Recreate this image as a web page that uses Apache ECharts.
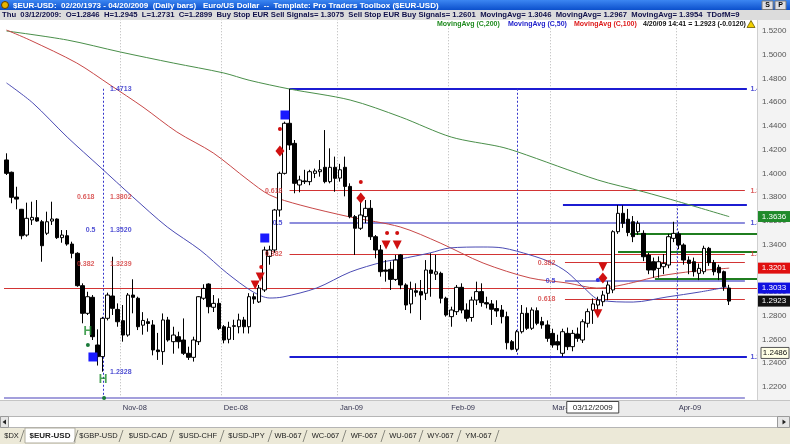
<!DOCTYPE html>
<html>
<head>
<meta charset="utf-8">
<script src="https://cdn.jsdelivr.net/npm/echarts@6.0.0/dist/echarts.min.js"></script>
<style>
html,body{margin:0;padding:0;background:#ece9d8;overflow:hidden;}
#chart{width:790px;height:444px;}
</style>
</head>
<body>
<div id="chart"></div>
<script>
// ---------------- data ----------------
const opens = [
1.4113,1.4009,1.3800,1.3697,1.3480,1.3607,1.3626,1.3592,1.3495,1.3598,
1.3615,1.3458,1.3474,1.3404,1.3326,1.3053,1.2820,1.2955,1.2553,1.2455,
1.2778,1.2966,1.2853,1.2758,1.2637,1.2974,1.2947,1.2720,1.2749,1.2722,
1.2511,1.2497,1.2764,1.2581,1.2623,1.2595,1.2483,1.2449,1.2581,1.2947,
1.3067,1.2871,1.2904,1.2707,1.2601,1.2710,1.2707,1.2764,1.2707,1.2960,
1.2916,1.3017,1.3300,1.3354,1.3691,1.4000,1.4422,1.4253,1.3902,1.3936,
1.3930,1.4000,1.4014,1.4051,1.3930,1.4051,1.3960,1.4051,1.3890,1.3635,
1.3537,1.3635,1.3705,1.3466,1.3354,1.3185,1.3191,1.3106,1.3312,1.3059,
1.2899,1.3010,1.3003,1.2989,1.3185,1.3150,1.3157,1.2947,1.2792,1.2834,
1.3039,1.2848,1.2785,1.2932,1.3003,1.2910,1.2899,1.2860,1.2848,1.2792,
1.2581,1.2517,1.2665,1.2820,1.2694,1.2842,1.2750,1.2722,1.2651,1.2581,
1.2483,1.2651,1.2539,1.2645,1.2595,1.2736,1.2846,1.2890,1.2918,1.2989,
1.3017,1.3508,1.3663,1.3613,1.3592,1.3508,1.3494,1.3311,1.3255,1.3199,
1.3213,1.3227,1.3452,1.3489,1.3396,1.3269,1.3255,1.3157,1.3171,1.3368,
1.3247,1.3208,1.3171,1.3033];
const highs = [
1.4169,1.4015,1.3887,1.3700,1.3753,1.3761,1.3775,1.3607,1.3677,1.3761,
1.3620,1.3522,1.3522,1.3424,1.3335,1.3073,1.3002,1.2974,1.2685,1.2790,
1.2994,1.3297,1.2904,1.2890,1.2991,1.3107,1.2960,1.2830,1.2777,1.2763,
1.2655,1.2819,1.2790,1.2707,1.2665,1.2777,1.2539,1.2623,1.2965,1.3065,
1.3073,1.2974,1.2946,1.2721,1.2749,1.2766,1.2817,1.2790,1.2990,1.2990,
1.3059,1.3382,1.3390,1.3700,1.4014,1.4436,1.4713,1.4281,1.3980,1.4030,
1.4030,1.4040,1.4112,1.4365,1.4211,1.4141,1.4080,1.4141,1.3916,1.3649,
1.3832,1.3775,1.3775,1.3480,1.3396,1.3269,1.3255,1.3312,1.3320,1.3073,
1.3087,1.3073,1.3101,1.3269,1.3326,1.3312,1.3171,1.2960,1.2876,1.3059,
1.3073,1.2904,1.2960,1.3087,1.3073,1.2960,1.2932,1.2930,1.2890,1.2834,
1.2595,1.2680,1.2890,1.2870,1.2870,1.2870,1.2790,1.2760,1.2690,1.2640,
1.2690,1.2700,1.2680,1.2700,1.2770,1.2860,1.2945,1.2960,1.3010,1.3090,
1.3520,1.3733,1.3730,1.3700,1.3640,1.3600,1.3520,1.3330,1.3290,1.3300,
1.3320,1.3490,1.3592,1.3510,1.3410,1.3300,1.3290,1.3240,1.3390,1.3380,
1.3270,1.3230,1.3180,1.3060];
const lows = [
1.3986,1.3748,1.3697,1.3444,1.3466,1.3565,1.3592,1.3255,1.3480,1.3565,
1.3447,1.3415,1.3390,1.3284,1.3044,1.2736,1.2806,1.2595,1.2380,1.2328,
1.2760,1.2806,1.2707,1.2581,1.2623,1.2820,1.2679,1.2640,1.2665,1.2466,
1.2427,1.2386,1.2581,1.2480,1.2524,1.2469,1.2427,1.2413,1.2553,1.2933,
1.2820,1.2831,1.2679,1.2567,1.2567,1.2595,1.2651,1.2651,1.2650,1.2900,
1.2907,1.3000,1.3230,1.3330,1.3635,1.3990,1.4197,1.3832,1.3840,1.3910,
1.3900,1.3960,1.3972,1.3916,1.3916,1.3845,1.3930,1.3806,1.3621,1.3312,
1.3523,1.3580,1.3438,1.3284,1.3129,1.3087,1.3017,1.3093,1.3023,1.2848,
1.2820,1.2960,1.2764,1.2932,1.2960,1.3101,1.2904,1.2792,1.2707,1.2806,
1.2820,1.2750,1.2750,1.2890,1.2876,1.2862,1.2722,1.2790,1.2735,1.2516,
1.2509,1.2495,1.2650,1.2680,1.2680,1.2720,1.2690,1.2580,1.2530,1.2510,
1.2455,1.2510,1.2500,1.2580,1.2570,1.2700,1.2731,1.2840,1.2880,1.2930,
1.2990,1.3490,1.3540,1.3470,1.3420,1.3480,1.3260,1.3150,1.3120,1.3120,
1.3150,1.3200,1.3420,1.3360,1.3230,1.3150,1.3130,1.3100,1.3150,1.3220,
1.3140,1.3100,1.3010,1.2890];
const closes = [
1.4000,1.3798,1.3783,1.3474,1.3621,1.3629,1.3598,1.3390,1.3592,1.3615,
1.3458,1.3480,1.3404,1.3326,1.3053,1.2820,1.2960,1.2623,1.2455,1.2778,
1.2974,1.2862,1.2749,1.2637,1.2974,1.2955,1.2707,1.2760,1.2735,1.2511,
1.2497,1.2764,1.2595,1.2637,1.2581,1.2483,1.2449,1.2595,1.2960,1.3030,
1.2876,1.2904,1.2693,1.2595,1.2702,1.2716,1.2764,1.2707,1.2960,1.2940,
1.3033,1.3354,1.3354,1.3691,1.4000,1.4422,1.4239,1.3916,1.3944,1.3930,
1.4014,1.4020,1.4030,1.3930,1.4051,1.3958,1.4030,1.3890,1.3635,1.3537,
1.3649,1.3705,1.3466,1.3354,1.3171,1.3175,1.3106,1.3269,1.3059,1.2890,
1.3023,1.2997,1.2974,1.3185,1.3157,1.3170,1.2947,1.2806,1.2848,1.3039,
1.2848,1.2778,1.2932,1.3003,1.2910,1.2899,1.2854,1.2840,1.2792,1.2572,
1.2517,1.2665,1.2820,1.2694,1.2848,1.2736,1.2722,1.2609,1.2553,1.2553,
1.2665,1.2539,1.2651,1.2609,1.2749,1.2834,1.2899,1.2932,1.2974,1.3059,
1.3508,1.3663,1.3579,1.3501,1.3466,1.3579,1.3297,1.3185,1.3185,1.3255,
1.3241,1.3466,1.3494,1.3396,1.3269,1.3241,1.3171,1.3199,1.3368,1.3247,
1.3171,1.3162,1.3045,1.2923];

// moving averages, read as [bar index, value]
const ma200Points = [[0,1.5200],[12,1.5124],[22.5,1.5023],[33,1.4930],[43,1.4846],[48,1.4785],[56,1.4711],[68,1.4618],[78,1.4475],[88,1.4306],[97.6,1.4225],[101,1.4183],[117,1.3944],[126,1.3845],[133,1.3761],[143,1.3635]];
const ma100Points = [[0,1.5208],[4.6,1.5124],[13.9,1.4930],[20.5,1.4745],[27,1.4559],[33.7,1.4349],[40.9,1.4172],[47.8,1.3944],[52.1,1.3817],[58.1,1.3733],[68,1.3632],[77.9,1.3548],[85.8,1.3413],[94.3,1.3244],[103.6,1.3118],[110.9,1.3076],[116.8,1.3033],[120,1.3045],[124,1.3080],[129.3,1.3135],[136,1.3175],[143,1.3201]];
const ma50Points = [[0,1.4762],[5.2,1.4593],[12,1.4306],[18.5,1.4054],[25,1.3801],[31.8,1.3548],[38.3,1.3354],[43.6,1.3160],[48.8,1.3000],[52.1,1.2949],[54.7,1.2958],[61.4,1.3034],[68,1.3168],[74.5,1.3253],[77.9,1.3278],[83.8,1.3329],[87.7,1.3371],[94.3,1.3379],[98.2,1.3371],[103.6,1.3312],[107.5,1.3253],[110.9,1.3168],[114.1,1.3042],[117.4,1.2932],[124,1.2915],[130.7,1.2958],[137.2,1.3000],[142.6,1.3042]];

// drawn levels: [from bar, to bar, price]
const redLevels = [[56,146.1,1.3854],[56,146.1,1.3318],[-0.5,148.5,1.3031],[110.5,146.1,1.3247],[110.5,146.1,1.2941]];
const blueLevels = [[56,146.5,1.4713],[56,146.5,1.2455],[110.1,146.5,1.3739]];
const halfLevels = [[56,146.1,1.3584],[110.5,146.1,1.3095]];
const greenLevels = [[123.4,148.5,1.3489],[121,148.5,1.3337],[128.3,148.5,1.3115]];
const baseLevels = [[-0.5,146.1,1.2106]];
// vertical dotted: [bar, top price, bottom price]
const dottedVerticals = [[19.2,1.4713,1.2106],[101,1.4713,1.2455],[132.7,1.3739,1.2455]];

// ratio / price texts: [bar, price, text, colour key]
const ratioTexts = [[17.7,1.3802,'0.618','r'],[17.9,1.3520,'0.5','b'],[17.7,1.3239,'0.382','r'],
  [54.9,1.3854,'0.618','r'],[54.9,1.3584,'0.5','b'],[54.9,1.3318,'0.382','r'],
  [108.9,1.3247,'0.382','r'],[108.9,1.3095,'0.5','b'],[108.9,1.2941,'0.618','r']];
const priceTexts = [[20.2,1.4713,'1.4713','b'],[20.2,1.3802,'1.3802','r'],[20.2,1.3520,'1.3520','b'],[20.2,1.3239,'1.3239','r'],[20.2,1.2328,'1.2328','b'],
  [146.9,1.4713,'1.4713','b'],[146.9,1.3854,'1.3854','r'],[146.9,1.3584,'1.3584','b'],[146.9,1.3318,'1.3318','r'],[146.9,1.2455,'1.2455','b']];

// signal markers: [bar, price]
const redTriangles = [[49.2,1.3059],[50.2,1.3126],[75.1,1.3396],[77.3,1.3396],[118,1.3211],[117,1.2817]];
const redDiamonds = [[54.1,1.4188],[70.1,1.3792],[118,1.3118]];
const redDots = [[50.4,1.3211],[54.1,1.4374],[70.1,1.3927],[75.3,1.3497],[77.3,1.3497]];
const blueSquares = [[17.1,1.2452],[51.1,1.3455],[55.1,1.4492]];
const blueDots = [[117,1.3101]];
const greenDots = [[16.1,1.2553],[19.3,1.2106]];
const greenH = [[16.1,1.2663],[19.1,1.2258]];

// axis
const yMin = 1.20, yMax = 1.54, yStep = 0.02;
const monthLabels = ['Nov-08','Dec-08','Jan-09','Feb-09','Mar-09','Apr-09'];
const monthLabelIndex = [23,43,66,88,108,133];
const valueTags = [[1.3636,'#1f8a2a','#fff'],[1.3201,'#e01010','#fff'],[1.3033,'#1010e0','#fff'],[1.2923,'#111','#fff']];
const crossValue = 1.2486;
const crossDate = '03/12/2009';
const crossBar = 116;

// categories: weekdays from 1 Oct 2008 (144 bars + 5 empty slots)
const cats = [];
{ let t = Date.UTC(2008,9,1);
  while (cats.length < 149) { const d = new Date(t); const w = d.getUTCDay();
    if (w !== 0 && w !== 6) cats.push((d.getUTCMonth()+1)+'/'+d.getUTCDate()+'/'+d.getUTCFullYear());
    t += 86400000; } }

// ---------------- chart ----------------
const RED = '#d23434', BLUE = '#2323c8', FONT = 'Liberation Sans, Arial, sans-serif';
const NCAT = 149, GL = 4, GW = 753;
const pxPerUnit = 1/0.000843;
const gridTop = 31 - (yMax - 1.52)*pxPerUnit;
const gridH = (yMax - yMin)*pxPerUnit;

const chart = echarts.init(document.getElementById('chart'), null, {width:790, height:444});
const candleData = opens.map((o,i)=>[o, closes[i], lows[i], highs[i]]);
const seg = arr => arr.map(a=>({coords:[[a[0],a[2]],[a[1],a[2]]]}));
const vseg = arr => arr.map(a=>({coords:[[a[0],a[1]],[a[0],a[2]]]}));
const ptsScatter = (data, symbol, size, color, extra) => Object.assign({
  type:'scatter', xAxisIndex:2, yAxisIndex:0, data, symbol, symbolSize:size,
  itemStyle:{color, opacity:1}, z:9, silent:true}, extra||{});
const textScatter = (arr, pos) => ({
  type:'scatter', xAxisIndex:2, yAxisIndex:0, symbolSize:1, itemStyle:{color:'rgba(0,0,0,0)'}, silent:true, z:9,
  data: arr.map(a=>({name:a[2], value:[a[0],a[1]], label:{color: a[3]==='r'?RED:BLUE}})),
  label:{show:true, position:pos, distance:1, formatter:'{b}', fontSize:7, fontWeight:'bold', fontFamily:FONT}
});

chart.setOption({
  animation:false,
  backgroundColor:'#ffffff',
  grid:{left:GL, top:gridTop, width:GW, height:gridH, containLabel:false},
  xAxis:[
    {type:'category', position:'bottom', data:cats, boundaryGap:true, axisLine:{show:false}, axisTick:{show:false}, axisLabel:{show:false},
     splitLine:{show:true, interval:(i)=>monthLabelIndex.includes(i), lineStyle:{color:'#b5b5b5', width:1, type:[1,2]}}},
    {type:'category', position:'bottom', data:cats, boundaryGap:true, offset:-9, z:150, axisLine:{show:false}, axisTick:{show:false}, splitLine:{show:false},
     axisLabel:{show:true, interval:(i)=>monthLabelIndex.includes(i), margin:2, align:'left', fontSize:7.5, color:'#343450', fontFamily:FONT,
       formatter:(v,i)=>{const j = monthLabelIndex.indexOf(i); return j>=0 ? monthLabels[j] : '';}}},
    {type:'value', position:'bottom', min:-0.5, max:NCAT-0.5, show:false}
  ],
  yAxis:{type:'value', position:'right', min:yMin, max:yMax, interval:yStep, z:150, scale:false,
    axisLine:{show:false}, axisTick:{show:false}, splitLine:{show:false},
    axisLabel:{margin:5, fontSize:8, color:'#555', fontFamily:FONT,
      formatter:(v)=> (v < 1.215 || v > 1.525) ? '' : v.toFixed(4)}},
  series:[
    {type:'lines', coordinateSystem:'cartesian2d', xAxisIndex:2, yAxisIndex:0, silent:true, z:3, data:seg(baseLevels), lineStyle:{color:'#a39fdc', width:2, opacity:1}},
    {type:'lines', coordinateSystem:'cartesian2d', xAxisIndex:2, yAxisIndex:0, silent:true, z:3, data:seg(redLevels), lineStyle:{color:RED, width:1, opacity:1}},
    {type:'lines', coordinateSystem:'cartesian2d', xAxisIndex:2, yAxisIndex:0, silent:true, z:3, data:seg(halfLevels), lineStyle:{color:'#8d8ddc', width:2, opacity:1}},
    {type:'lines', coordinateSystem:'cartesian2d', xAxisIndex:2, yAxisIndex:0, silent:true, z:3, data:seg(blueLevels), lineStyle:{color:'#1c1cd2', width:2, opacity:1}},
    {type:'lines', coordinateSystem:'cartesian2d', xAxisIndex:2, yAxisIndex:0, silent:true, z:3, data:seg(greenLevels), lineStyle:{color:'#1f7d1f', width:2, opacity:1}},
    {type:'lines', coordinateSystem:'cartesian2d', xAxisIndex:2, yAxisIndex:0, silent:true, z:3, data:vseg(dottedVerticals), lineStyle:{color:'#3434cc', width:1, opacity:1, type:[2,2]}},
    {type:'line', xAxisIndex:2, yAxisIndex:0, data:ma200Points, smooth:0.3, showSymbol:false, silent:true, z:4, lineStyle:{color:'#4a8f4a', width:1}},
    {type:'line', xAxisIndex:2, yAxisIndex:0, data:ma100Points, smooth:0.3, showSymbol:false, silent:true, z:4, lineStyle:{color:'#c84848', width:1}},
    {type:'line', xAxisIndex:2, yAxisIndex:0, data:ma50Points, smooth:0.3, showSymbol:false, silent:true, z:4, lineStyle:{color:'#4b4bb4', width:1}},
    {type:'candlestick', xAxisIndex:0, yAxisIndex:0, data:candleData, barWidth:4, silent:true, z:5,
      itemStyle:{color:'#ffffff', color0:'#000000', borderColor:'#000000', borderColor0:'#000000', borderWidth:1}},
    ptsScatter(redTriangles, 'triangle', [9,9], '#d01010', {symbolRotate:180}),
    ptsScatter(redDiamonds, 'diamond', [9,11], '#d01010'),
    ptsScatter(redDots, 'circle', 4, '#d01010'),
    ptsScatter(blueSquares, 'rect', 9, '#1a1aff'),
    ptsScatter(blueDots, 'circle', 4, '#3030e0'),
    ptsScatter(greenDots, 'circle', 4, '#1a7a3a'),
    {type:'scatter', xAxisIndex:2, yAxisIndex:0, data:greenH, symbolSize:1, itemStyle:{color:'rgba(0,0,0,0)'}, silent:true, z:9,
      label:{show:true, position:'inside', formatter:'H', color:'#1a8a2a', fontSize:12, fontWeight:'bold', fontFamily:FONT}},
    textScatter(ratioTexts, 'left'),
    textScatter(priceTexts, 'right')
  ]
});

// ---------------- frame (window chrome, panels, tags) ----------------
const yPx = v => chart.convertToPixel({yAxisIndex:0}, v);
const xPx = v => chart.convertToPixel({xAxisIndex:2}, v);
const Z = 100;
const rect = (x,y,w,h,fill,stroke,z) => ({type:'rect', z:z||Z, shape:{x,y,width:w,height:h}, style:{fill, stroke:stroke||null, lineWidth:stroke?1:0}, silent:true});
const text = (x,y,s,font,fill,align,z) => ({type:'text', z:z||Z+2, x, y, silent:true,
  style:{text:s, font, fill, align:align||'left', verticalAlign:'middle', textAlign:align||'left', textVerticalAlign:'middle'}});
const g = [];
// title bar
g.push({type:'rect', z:Z, shape:{x:0,y:0,width:790,height:10}, silent:true,
  style:{fill:new echarts.graphic.LinearGradient(0,0,0,1,[{offset:0,color:'#3c86f2'},{offset:1,color:'#0c50cc'}])}});
g.push({type:'circle', z:Z+1, shape:{cx:5,cy:5,r:3.5}, style:{fill:'#e8b400', stroke:'#5a3a00', lineWidth:1}, silent:true});
g.push(text(13,5.5,'$EUR-USD:  02/20/1973 - 04/20/2009  (Daily bars)   Euro/US Dollar  --  Template: Pro Traders Toolbox ($EUR-USD)','bold 8px '+FONT,'#ffffff'));
g.push(rect(762,1,11,8.5,'#e0dfe3','#7a7a7a',Z+1)); g.push(text(767.5,5.5,'S','bold 7px '+FONT,'#000','center'));
g.push(rect(775,1,11,8.5,'#e0dfe3','#7a7a7a',Z+1)); g.push(text(780.5,5.5,'P','bold 7px '+FONT,'#000','center'));
// info row
g.push(rect(0,10,790,10,'#dcdcdc'));
g.push(text(2,15,'Thu  03/12/2009:  O=1.2846  H=1.2945  L=1.2731  C=1.2899  Buy Stop EUR Sell Signals= 1.3075  Sell Stop EUR Buy Signals= 1.2601  MovingAvg= 1.3046  MovingAvg= 1.2967  MovingAvg= 1.3954  TDofM=9','bold 7.7px '+FONT,'#10104a'));
// legend row (on the white plot)
g.push(text(437,24.5,'MovingAvg (C,200)','bold 7px '+FONT,'#1e8a1e'));
g.push(text(508,24.5,'MovingAvg (C,50)','bold 7px '+FONT,'#2222cc'));
g.push(text(574,24.5,'MovingAvg (C,100)','bold 7px '+FONT,'#dd1a1a'));
g.push(text(643,24.5,'4/20/09 14:41 = 1.2923 (-0.0120)','bold 7px '+FONT,'#111'));
g.push({type:'polygon', z:Z+1, shape:{points:[[751,20.5],[755,27.5],[747,27.5]]}, style:{fill:'#f2d000', stroke:'#6a5a00', lineWidth:0.8}, silent:true});
// right axis panel
g.push(rect(757,20,33,380,'#f3f3f3'));
g.push({type:'line', z:Z+1, shape:{x1:757.5,y1:20,x2:757.5,y2:400}, style:{stroke:'#cfcfcf', lineWidth:1}, silent:true});
// value tags on the axis
valueTags.forEach(t=>{ const y = yPx(t[0]);
  g.push(rect(758,y-5.5,32,11,t[1],null,160));
  g.push(text(774,y,t[0].toFixed(4),'8px '+FONT,t[2],'center',161)); });
{ const y = yPx(crossValue);
  g.push(rect(761,y-5.5,28,11,'#ffffe6','#555',160));
  g.push(text(775,y,crossValue.toFixed(4),'8px '+FONT,'#111','center',161)); }
// x axis strip
g.push(rect(0,400,790,16,'#ebebeb'));
g.push({type:'line', z:Z+1, shape:{x1:0,y1:400.5,x2:790,y2:400.5}, style:{stroke:'#c4c4c4', lineWidth:1}, silent:true});
{ const cx = xPx(crossBar);
  g.push(rect(cx-26,401.5,52,11.5,'#ffffff','#444',160));
  g.push(text(cx,407.5,crossDate,'8px '+FONT,'#222','center',161)); }
// scroll bar
g.push(rect(0.5,416.5,789,11,'#ffffff','#b5b5b5'));
g.push(rect(0.5,416.5,8,11,'#e6e6e6','#9a9a9a',Z+1));
g.push({type:'polygon', z:Z+2, shape:{points:[[2.5,422],[6,419.5],[6,424.5]]}, style:{fill:'#222'}, silent:true});
g.push(rect(777.5,416.5,12,11,'#e6e6e6','#9a9a9a',Z+1));
g.push({type:'polygon', z:Z+2, shape:{points:[[786,422],[782.5,419.5],[782.5,424.5]]}, style:{fill:'#222'}, silent:true});
// tabs
g.push(rect(0,428,790,16,'#ece9d8'));
g.push(rect(25,428,50,15,'#ffffff','#b0ad9e',Z+1));
const tabs = [['$DX',11.5],['$EUR-USD',50],['$GBP-USD',98.5],['$USD-CAD',148],['$USD-CHF',198],['$USD-JPY',246.5],['WB-067',288],['WC-067',325.5],['WF-067',364],['WU-067',403],['WY-067',440.5],['YM-067',478.5]];
const seps = [22,76,121,172,222,270,305,344,383,421,459,497];
tabs.forEach((t,i)=> g.push(text(t[1],436,t[0],(i===1?'bold 8px ':'7.5px ')+FONT,'#222','center')));
seps.forEach(x=> g.push({type:'line', z:Z+1, shape:{x1:x-2,y1:442,x2:x+2,y2:430}, style:{stroke:'#8a8a80', lineWidth:1}, silent:true}));
chart.setOption({graphic:g});
</script>
</body>
</html>
